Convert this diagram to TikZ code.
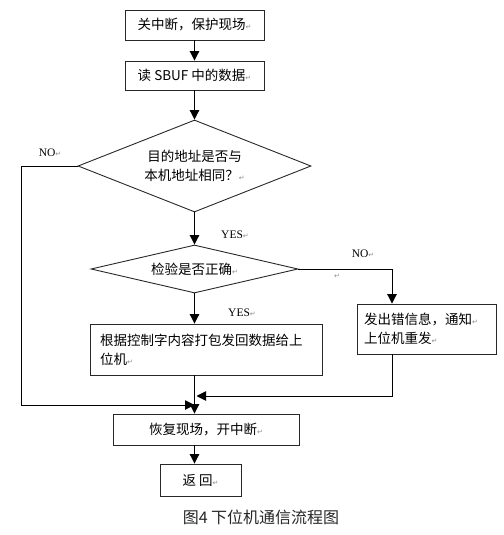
\documentclass[tikz,border=0pt]{standalone}
\usepackage{fontspec}
\usepackage{xcolor}
\usepackage{tikz}
\usetikzlibrary{shapes.geometric,arrows.meta}
\setmainfont{Liberation Serif}
\newfontfamily\cjk{Noto Sans CJK SC}
\newfontfamily\symfont{DejaVu Sans}
\newcommand{\retmark}{{\symfont\fontsize{7}{7}\selectfont\textcolor{black!45}{↵}}}
\definecolor{linegray}{RGB}{40,40,40}

\begin{document}
\begin{tikzpicture}[x=1pt, y=-1pt]
    % Define styles
    \tikzstyle{box} = [rectangle, draw=linegray, line width=0.9pt, inner sep=0pt, text centered, font=\cjk\fontsize{13.5}{19}\selectfont]
    \tikzstyle{decision} = [diamond, draw=linegray, line width=0.9pt, inner sep=0pt, aspect=2.5, align=center, font=\cjk\fontsize{13.5}{19}\selectfont]
    \tikzstyle{line} = [draw=black, line width=1pt]
    \tikzstyle{arrow} = [line, -{Triangle[length=9.5pt,width=9.5pt]}]
    \tikzstyle{yesno} = [font=\fontsize{11.5}{11.5}\selectfont]

    \useasboundingbox (0,0) rectangle (503,535);

    % Boxes
    \node [box, minimum width=139pt, minimum height=30pt] (close_int) at (194.5,25) {关中断，保护现场\retmark};
    \node [box, minimum width=139pt, minimum height=29pt] (read_sbuf) at (194.5,75.5) {读 SBUF 中的数据\retmark};

    % Decisions
    \node [decision, minimum width=233pt, minimum height=92pt] (addr_check) at (194.5,166) {目的地址是否与\\本机地址相同？\retmark};
    \node [decision, minimum width=207pt, minimum height=48pt] (crc_check) at (194.5,269) {检验是否正确\retmark};

    % Actions
    \node [box, minimum width=232pt, minimum height=51pt, text width=212pt, align=left] (send_back) at (206,349.5) {根据控制字内容打包发回数据给上\\位机\retmark};
    \node [box, minimum width=139pt, minimum height=50pt, text width=125pt, align=left] (send_err) at (426.5,329) {发出错信息，通知\retmark\\上位机重发\retmark};
    \node [box, minimum width=186pt, minimum height=31pt] (restore) at (206,429.5) {恢复现场，开中断\retmark};
    \node [box, minimum width=81pt, minimum height=32pt] (ret) at (200.5,480) {返 回\retmark};

    % Caption
    \node [font=\cjk\fontsize{16}{16}\selectfont, text=black!85] (caption) at (261,517) {图4 下位机通信流程图};

    % Labels
    \node [yesno] (no_left) at (50,153) {NO\retmark};
    \node [yesno] (yes_a) at (235,235) {YES\retmark};
    \node [yesno] (no_right) at (363,254) {NO\retmark};
    \node [yesno] (yes_b) at (242,313) {YES\retmark};
    \node (stray_mark) at (337,276) {\retmark};

    % Merge points
    \coordinate (corner_left) at (21,166);
    \coordinate (merge_left) at (194.5,405);
    \coordinate (corner_right) at (392,269);
    \coordinate (corner_down) at (392,396);
    \coordinate (merge_right) at (194.5,396);

    % Arrows
    \draw [arrow] (close_int) -- (read_sbuf);
    \draw [arrow] (read_sbuf) -- (addr_check);
    \draw [arrow] (addr_check) -- (crc_check);
    \draw [arrow] (crc_check.south) -- (crc_check.south |- send_back.north);
    \draw [arrow] (crc_check.south |- send_back.south) -- (crc_check.south |- restore.north);
    \draw [arrow] (crc_check.south |- restore.south) -- (crc_check.south |- ret.north);

    \draw [arrow] (addr_check.west) -- (corner_left) -- (corner_left |- merge_left) -- (merge_left);
    \draw [arrow] (crc_check.east) -- (corner_right) -- (send_err.north -| corner_right);
    \draw [arrow] (send_err.south -| corner_down) -- (corner_down) -- ([xshift=2pt]merge_right);
\end{tikzpicture}
\end{document}
